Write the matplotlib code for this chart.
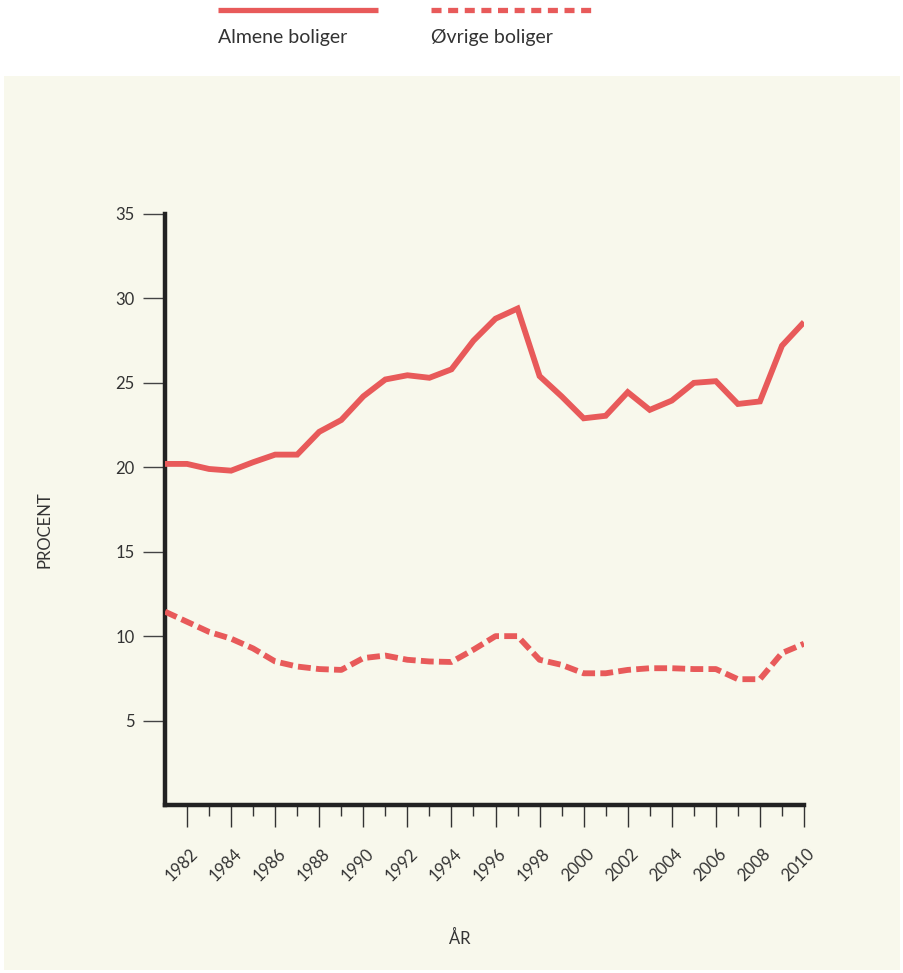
import matplotlib
matplotlib.use("Agg")
import matplotlib.pyplot as plt
from matplotlib.lines import Line2D
from matplotlib.patches import Rectangle
import matplotlib.transforms as mtransforms

years = list(range(1981, 2011))
almene = [20.2, 20.2, 19.9, 19.8, 20.3, 20.75, 20.75, 22.1, 22.8, 24.2,
          25.2, 25.45, 25.3, 25.8, 27.5, 28.8, 29.4, 25.4, 24.2, 22.9,
          23.05, 24.45, 23.4, 23.95, 25.0, 25.1, 23.75, 23.9, 27.2, 28.6]
ovrige = [11.45, 10.85, 10.25, 9.85, 9.27, 8.5, 8.2, 8.05, 8.0, 8.7,
          8.85, 8.6, 8.5, 8.47, 9.2, 10.0, 10.0, 8.6, 8.3, 7.8,
          7.8, 8.0, 8.1, 8.1, 8.05, 8.05, 7.45, 7.45, 9.0, 9.55]
series_names = ["Almene boliger", "Øvrige boliger"]
y_ticks = [5, 10, 15, 20, 25, 30, 35]
x_major = list(range(1982, 2011, 2))
x_minor = list(range(1983, 2011, 2))

W, H = 904, 973
RED = "#e85a5a"
BG = "#f8f8ec"
DARK = "#222222"
FONT = ["Lato", "DejaVu Sans"]

fig = plt.figure(figsize=(W / 100, H / 100), dpi=100)
fig.patch.set_facecolor("white")

# beige panel
fig.add_artist(Rectangle((4 / W, 1 - 970 / H), 896 / W, (970 - 76) / H,
                         transform=fig.transFigure, facecolor=BG,
                         edgecolor="none", zorder=0))

ax_left, ax_right = 165 / W, 804 / W
ax_bottom, ax_top = 1 - 805 / H, 1 - 214 / H
ax = fig.add_axes([ax_left, ax_bottom, ax_right - ax_left, ax_top - ax_bottom])
ax.set_facecolor("none")

ax.plot(years, almene, color=RED, lw=4.2, solid_joinstyle="miter",
        solid_capstyle="butt", zorder=3)
ax.plot(years, ovrige, color=RED, lw=4.2, dashes=(2.2, 0.9),
        dash_capstyle="butt", zorder=3)

ax.set_xlim(1981, 2010)
ax.set_ylim(0, 35)

for s in ["top", "right"]:
    ax.spines[s].set_visible(False)
for s in ["left", "bottom"]:
    ax.spines[s].set_linewidth(3.2)
    ax.spines[s].set_color(DARK)
    ax.spines[s].set_capstyle("projecting")

ax.set_yticks(y_ticks)
ax.set_yticklabels([str(v) for v in y_ticks], fontsize=12, color="#333333",
                   family=FONT)
ax.tick_params(axis="y", direction="out", length=16, width=1.0,
               color="#444444", pad=6)

ax.set_xticks(x_major)
ax.set_xticks(x_minor, minor=True)
ax.set_xticklabels([str(v) for v in x_major], fontsize=12, color="#333333",
                   rotation=45, ha="right", va="center",
                   rotation_mode="anchor", family=FONT)
ax.tick_params(axis="x", which="major", direction="out", length=16,
               width=1.0, color="#333333", pad=17)
ax.tick_params(axis="x", which="minor", direction="out", length=8,
               width=1.0, color="#333333")
offset = mtransforms.ScaledTranslation(8 / 100, 0, fig.dpi_scale_trans)
for lbl in ax.get_xticklabels():
    lbl.set_transform(lbl.get_transform() + offset)

# axis titles
fig.text(45 / W, 1 - 530 / H, "PROCENT", rotation=90, ha="center",
         va="center", fontsize=12, color="#333333", family=FONT)
fig.text(460 / W, 1 - 938 / H, "ÅR", ha="center", va="center",
         fontsize=12, color="#333333", family=FONT)

# legend (manual, above panel)
fig.add_artist(Line2D([218 / W, 378 / W], [1 - 10 / H, 1 - 10 / H],
                      transform=fig.transFigure, color=RED, lw=3.8,
                      solid_capstyle="butt"))
fig.add_artist(Line2D([431 / W, 592 / W], [1 - 10 / H, 1 - 10 / H],
                      transform=fig.transFigure, color=RED, lw=3.8,
                      dashes=(1.9, 1.25), dash_capstyle="butt"))
fig.text(218 / W, 1 - 37 / H, series_names[0], ha="left", va="center",
         fontsize=14, color="#333333", family=FONT)
fig.text(431 / W, 1 - 37 / H, series_names[1], ha="left", va="center",
         fontsize=14, color="#333333", family=FONT)

fig.savefig("out.png", dpi=100, facecolor=fig.get_facecolor())
